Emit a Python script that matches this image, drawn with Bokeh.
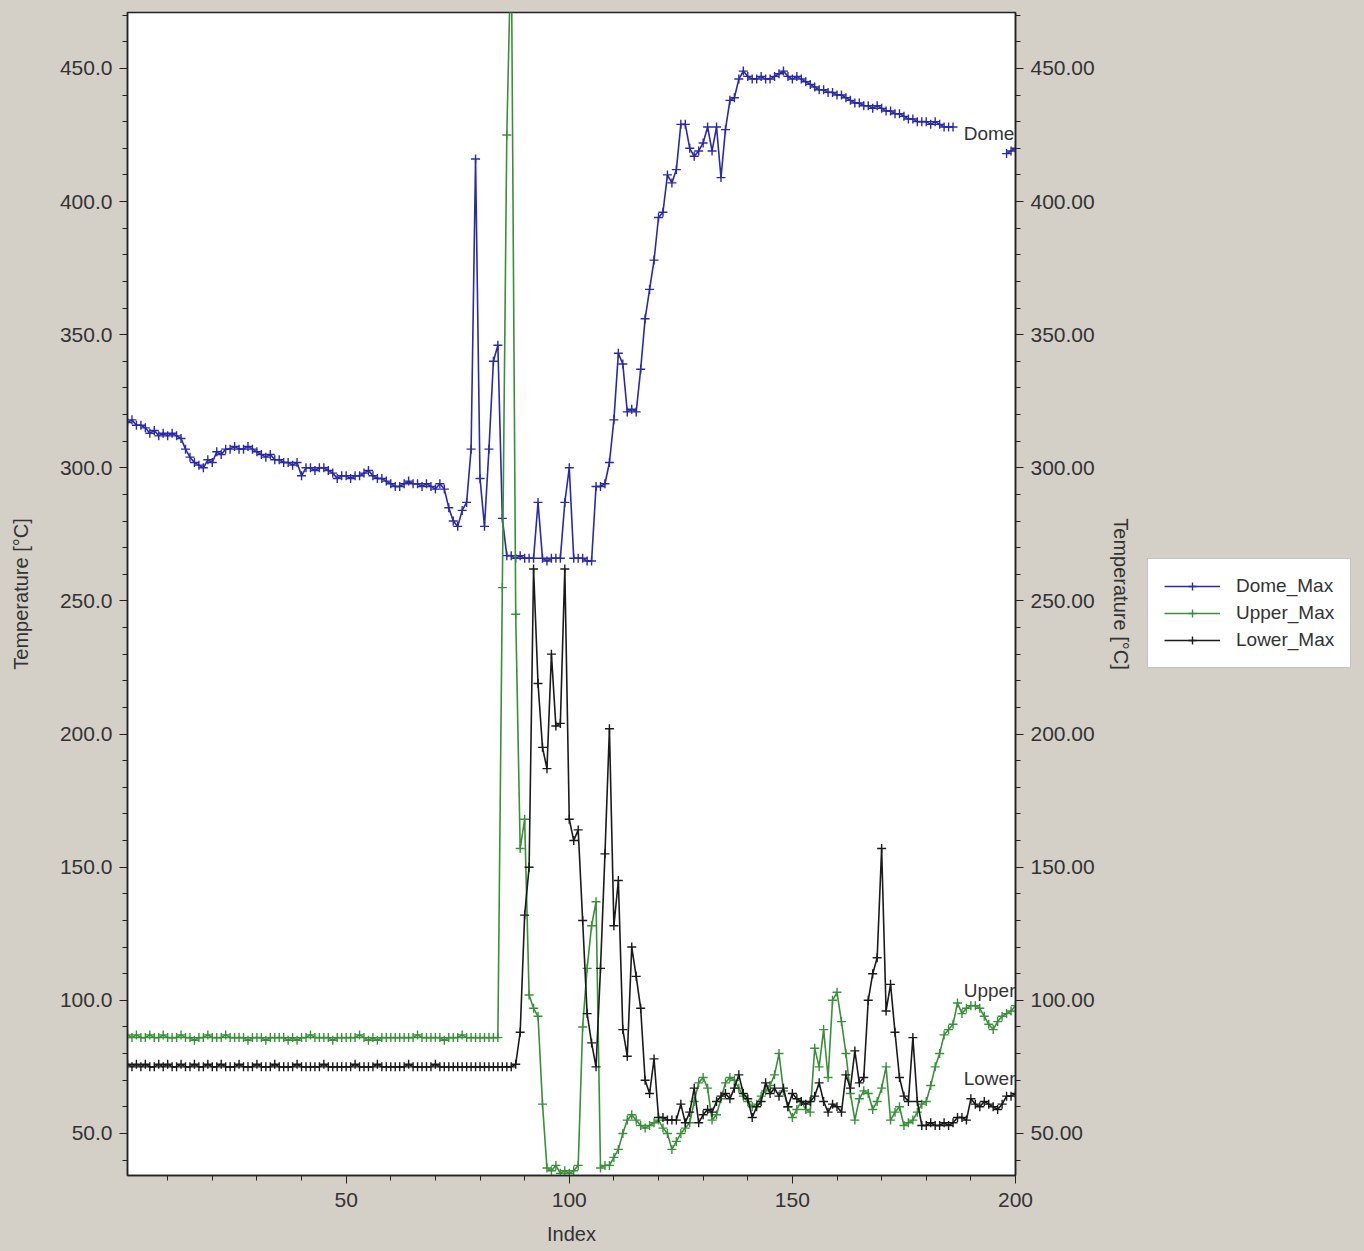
from bokeh.plotting import figure
from bokeh.layouts import row
from bokeh.models import (Range1d, LinearAxis, FixedTicker, Legend, LegendItem,
                          ColumnDataSource, NumeralTickFormatter)
from bokeh.embed import file_html
from bokeh.resources import INLINE
from bokeh.core.properties import value

nan = float("nan")

# ---------------- data ----------------
series_names = ["Dome_Max", "Upper_Max", "Lower_Max"]
end_labels = ["Dome", "Upper", "Lower"]
x_ticks = [50, 100, 150, 200]
y_ticks = [50, 100, 150, 200, 250, 300, 350, 400, 450]

dome_max = [
    317, 318, 316, 316, 315, 313, 314, 312, 313, 312,
    313, 312, 311, 307, 304, 302, 301, 300, 303, 302,
    306, 305, 307, 307, 308, 307, 307, 308, 307, 306,
    305, 304, 305, 303, 303, 302, 302, 301, 302, 297,
    300, 300, 299, 300, 300, 299, 298, 296, 297, 297,
    296, 297, 297, 298, 299, 297, 296, 296, 295, 294,
    293, 293, 294, 295, 294, 294, 293, 294, 293, 292,
    294, 292, 285, 280, 278, 284, 287, 307, 416, 296,
    278, 307, 340, 346, 281, 267, 267, 266, 267, 266,
    266, 266, 287, 266, 265, 266, 266, 266, 287, 300,
    266, 266, 266, 265, 265, 293, 293, 294, 302, 318,
    343, 339, 321, 322, 321, 337, 356, 367, 378, 394,
    396, 410, 407, 412, 429, 429, 420, 417, 419, 422,
    428, 419, 428, 409, 427, 438, 439, 446, 449, 447,
    446, 446, 447, 446, 446, 447, 448, 449, 447, 446,
    447, 446, 445, 444, 443, 442, 442, 441, 441, 440,
    440, 439, 438, 437, 437, 436, 436, 435, 436, 435,
    434, 434, 433, 433, 432, 431, 431, 430, 430, 430,
    429, 430, 429, 428, 428, 428, nan, nan, nan, nan,
    nan, nan, nan, nan, nan, nan, nan, 418, 419, 420,
]

upper_max = [
    87, 86, 87, 86, 86, 87, 86, 86, 87, 86,
    86, 86, 87, 86, 86, 85, 86, 86, 87, 86,
    86, 86, 87, 86, 86, 86, 86, 85, 86, 86,
    86, 85, 86, 86, 86, 86, 85, 86, 85, 86,
    86, 87, 86, 86, 86, 86, 85, 86, 86, 86,
    86, 86, 87, 86, 85, 86, 85, 86, 86, 86,
    86, 86, 86, 86, 86, 87, 86, 86, 86, 86,
    86, 85, 86, 86, 86, 87, 86, 86, 86, 86,
    86, 86, 86, 86, 255, 425, 500, 245, 157, 168,
    102, 97, 94, 61, 37, 36, 38, 35, 36, 35,
    36, 38, 90, 112, 128, 137, 37, 38, 38, 41,
    44, 50, 55, 57, 55, 53, 52, 53, 54, 55,
    52, 50, 44, 47, 50, 52, 54, 62, 69, 71,
    67, 55, 57, 63, 69, 71, 70, 67, 64, 62,
    60, 61, 64, 66, 68, 72, 80, 66, 60, 56,
    59, 62, 59, 58, 82, 75, 89, 71, 100, 103,
    92, 80, 65, 55, 63, 66, 65, 59, 62, 67,
    75, 55, 58, 60, 53, 54, 55, 58, 61, 62,
    68, 75, 80, 87, 89, 91, 99, 95, 97, 98,
    98, 97, 94, 91, 89, 92, 94, 95, 96, 98,
]

lower_max = [
    76, 75, 76, 75, 76, 75, 75, 76, 75, 76,
    75, 75, 76, 75, 75, 76, 75, 75, 76, 75,
    75, 76, 75, 75, 75, 76, 75, 75, 75, 76,
    75, 75, 75, 76, 75, 75, 75, 75, 76, 75,
    75, 75, 75, 75, 76, 75, 75, 75, 75, 75,
    75, 76, 75, 75, 75, 75, 76, 75, 75, 75,
    75, 75, 75, 76, 75, 75, 75, 75, 75, 76,
    75, 75, 75, 75, 75, 75, 75, 75, 75, 75,
    75, 75, 75, 75, 75, 75, 75, 76, 88, 132,
    150, 262, 219, 195, 187, 230, 203, 204, 262, 168,
    160, 164, 130, 95, 84, 75, 112, 155, 202, 128,
    145, 89, 79, 120, 109, 97, 70, 65, 78, 56,
    56, 55, 55, 55, 61, 54, 58, 67, 54, 57,
    59, 58, 62, 64, 65, 63, 67, 72, 65, 63,
    56, 60, 62, 69, 65, 67, 64, 67, 60, 65,
    63, 62, 61, 62, 64, 69, 62, 58, 61, 60,
    58, 72, 67, 81, 69, 71, 100, 110, 116, 157,
    96, 106, 88, 71, 64, 62, 86, 62, 53, 53,
    54, 53, 53, 54, 53, 54, 56, 56, 55, 63,
    61, 60, 62, 61, 60, 59, 61, 64, 64, 65,
]

# ---------------- styling ----------------
FONT = "Liberation Sans"
TXT = "#333333"
BG = "#d4d0c8"
colors = ["#2a2aa8", "#3a8f3a", "#1a1a1a"]

p = figure(width=1140, height=1251, output_backend="svg", toolbar_location=None,
           x_range=Range1d(1, 200), y_range=Range1d(34.2, 471),
           min_border_left=127, min_border_right=125, min_border_top=12,
           min_border_bottom=76,
           background_fill_color="white", border_fill_color=BG,
           outline_line_color="#222222", outline_line_width=1.5)
p.grid.visible = False


def style_axis(ax):
    ax.axis_line_color = "#222222"
    ax.axis_line_width = 1.5
    ax.major_tick_line_color = "#222222"
    ax.minor_tick_line_color = "#222222"
    ax.major_tick_out = 8
    ax.major_tick_in = 0
    ax.minor_tick_out = 5
    ax.minor_tick_in = 0
    ax.major_label_text_font = FONT
    ax.major_label_text_font_size = "21px"
    ax.major_label_text_color = TXT
    ax.axis_label_text_font = FONT
    ax.axis_label_text_font_size = "20px"
    ax.axis_label_text_font_style = "normal"
    ax.axis_label_text_color = TXT


xa = p.xaxis[0]
xa.ticker = FixedTicker(ticks=x_ticks, minor_ticks=list(range(10, 201, 10)))
xa.axis_label = "Index"
style_axis(xa)
xa.major_label_standoff = 9
xa.axis_label_standoff = 13

ya = p.yaxis[0]
ya.ticker = FixedTicker(ticks=y_ticks, minor_ticks=list(range(40, 471, 10)))
ya.formatter = NumeralTickFormatter(format="0.0")
ya.axis_label = "Temperature [°C]"
style_axis(ya)
ya.major_label_standoff = 7
ya.axis_label_standoff = 25

yr = LinearAxis(ticker=FixedTicker(ticks=y_ticks, minor_ticks=list(range(40, 471, 10))),
                formatter=NumeralTickFormatter(format="0.00"),
                axis_label="Temperature [°C]")
style_axis(yr)
yr.major_label_standoff = 7
yr.axis_label_standoff = 12
p.add_layout(yr, "right")

for ys, col in zip([dome_max, upper_max, lower_max], colors):
    src = ColumnDataSource(dict(x=list(range(1, len(ys) + 1)), y=ys))
    p.line("x", "y", source=src, line_color=col, line_width=1.6)
    p.scatter("x", "y", source=src, marker="cross", size=9,
              line_color=col, line_width=1.4)

# end-of-line labels (clipped by the frame as in the original)
lab_src = ColumnDataSource(dict(x=[188.4, 188.4, 188.4], y=[425.6, 103.7, 70.6],
                                t=end_labels))
p.text("x", "y", text="t", source=lab_src, text_font=value(FONT),
       text_font_size="19px", text_color=TXT, text_baseline="middle",
       text_align="left")

# ---------------- legend panel ----------------
lf = figure(width=224, height=1251, output_backend="svg", toolbar_location=None,
            x_axis_location=None, y_axis_location=None,
            x_range=Range1d(0, 1), y_range=Range1d(0, 1),
            min_border=0, background_fill_color=None, border_fill_color=BG,
            outline_line_color=None, styles={"background-color": BG})
lf.grid.visible = False
items = []
for name, ys, col in zip(series_names, [dome_max, upper_max, lower_max], colors):
    # the series sit far outside this panel's ranges; only the legend shows
    es = ColumnDataSource(dict(x=list(range(1, len(ys) + 1)), y=ys))
    ln = lf.line("x", "y", source=es, line_color=col, line_width=1.6)
    sc = lf.scatter("x", "y", source=es, marker="cross", size=9,
                    line_color=col, line_width=1.4)
    items.append(LegendItem(label=name, renderers=[ln, sc]))

legend = Legend(items=items, location=(7, 507),
                label_text_font=FONT, label_text_font_size="19px",
                label_text_color=TXT,
                border_line_color="#888888", border_line_width=1,
                background_fill_color="white", background_fill_alpha=1.0,
                glyph_width=56, glyph_height=20, label_height=20,
                label_standoff=16, spacing=5, padding=16, margin=0)
lf.add_layout(legend, "center")

layout = row(p, lf, styles={"background-color": BG})
open("out.html", "w").write(file_html(layout, INLINE))
